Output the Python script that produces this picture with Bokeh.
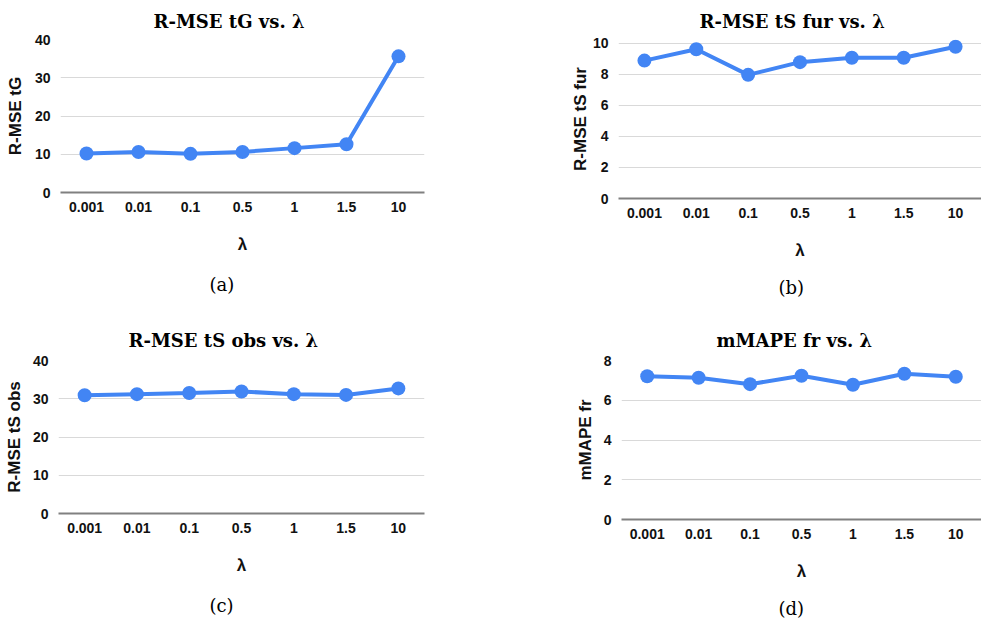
from bokeh.plotting import figure
from bokeh.models import FactorRange, Range1d, FixedTicker, Title
from bokeh.layouts import column, row
from bokeh.embed import file_html
from bokeh.resources import INLINE

# ---- data ----
lambdas = ["0.001", "0.01", "0.1", "0.5", "1", "1.5", "10"]
rmse_tG = [10.2, 10.6, 10.1, 10.6, 11.6, 12.6, 35.6]
rmse_tS_fur = [8.89, 9.62, 7.97, 8.79, 9.07, 9.07, 9.78]
rmse_tS_obs = [30.9, 31.2, 31.5, 31.9, 31.2, 31.0, 32.7]
mmape_fr = [7.21, 7.13, 6.81, 7.23, 6.78, 7.33, 7.18]

ticks_tG = [0, 10, 20, 30, 40]
ticks_tS_fur = [0, 2, 4, 6, 8, 10]
ticks_tS_obs = [0, 10, 20, 30, 40]
ticks_mmape = [0, 2, 4, 6, 8]

titles = ["R-MSE tG vs. λ", "R-MSE tS fur vs. λ", "R-MSE tS obs vs. λ", "mMAPE fr vs. λ"]
ylabels = ["R-MSE tG", "R-MSE tS fur", "R-MSE tS obs", "mMAPE fr"]
captions = ["(a)", "(b)", "(c)", "(d)"]

BLUE = "#4285F4"


def make_panel(vals, ticks, yend, title, ylabel, caption,
               fw, fh, bl, br, bt, bb, title_off, title_so, cap_off, cap_so,
               ylab_standoff):
    p = figure(x_range=FactorRange(*lambdas), y_range=Range1d(0, yend),
               frame_width=fw, frame_height=fh, output_backend="svg",
               toolbar_location=None, min_border_left=bl, min_border_right=br,
               min_border_top=bt, min_border_bottom=bb)
    p.outline_line_color = None
    p.background_fill_color = "white"
    p.border_fill_color = "white"

    p.line(lambdas, vals, line_color=BLUE, line_width=4)
    p.scatter(lambdas, vals, size=14, fill_color=BLUE, line_color=None)

    p.yaxis.ticker = FixedTicker(ticks=ticks)
    p.ygrid.ticker = FixedTicker(ticks=[t for t in ticks if t > 0])
    p.ygrid.grid_line_color = "#d9d9d9"
    p.ygrid.grid_line_width = 1
    p.xgrid.grid_line_color = None

    for ax in (p.xaxis[0], p.yaxis[0]):
        ax.major_tick_line_color = None
        ax.minor_tick_line_color = None
        ax.major_label_text_font = "Liberation Sans"
        ax.major_label_text_font_style = "bold"
        ax.major_label_text_font_size = "14px"
        ax.major_label_text_color = "#111111"
        ax.axis_label_text_font = "Liberation Sans"
        ax.axis_label_text_font_style = "bold"
        ax.axis_label_text_font_size = "17px"
        ax.axis_label_text_color = "#111111"
    p.yaxis.axis_line_color = None
    p.yaxis.major_label_standoff = 4
    p.yaxis.axis_label = ylabel
    p.yaxis.axis_label_standoff = ylab_standoff
    p.xaxis.axis_line_color = "#808080"
    p.xaxis.axis_line_width = 2
    p.xaxis.major_label_standoff = 3
    p.xaxis.axis_label = "λ"
    p.xaxis.axis_label_standoff = 20

    p.title = Title(text=title, align="left", offset=title_off, standoff=title_so,
                    text_font="DejaVu Serif", text_font_style="bold",
                    text_font_size="18px", text_color="#000000")
    p.add_layout(Title(text=caption, align="left", offset=cap_off, standoff=cap_so,
                       text_font="DejaVu Serif", text_font_style="normal",
                       text_font_size="18px", text_color="#000000"), "below")
    return p


pa = make_panel(rmse_tG, ticks_tG, 40, titles[0], ylabels[0], captions[0],
                364, 153, 60, 64, 32, 113, 93, 16, 149, 31, 7)
pb = make_panel(rmse_tS_fur, ticks_tS_fur, 10.25, titles[1], ylabels[1], captions[1],
                363, 159, 130, 0, 32, 107, 81, 16, 160, 25, 0)
pc = make_panel(rmse_tS_obs, ticks_tS_obs, 40, titles[2], ylabels[2], captions[2],
                366, 153, 58, 64, 50, 106, 70, 20, 151, 31, 6)
pd = make_panel(mmape_fr, ticks_mmape, 8, titles[3], ylabels[3], captions[3],
                360, 159, 133, 0, 50, 100, 95, 20, 157, 25, 6)

layout = column(row(pa, pb), row(pc, pd))

open("out.html", "w").write(file_html(layout, INLINE))
